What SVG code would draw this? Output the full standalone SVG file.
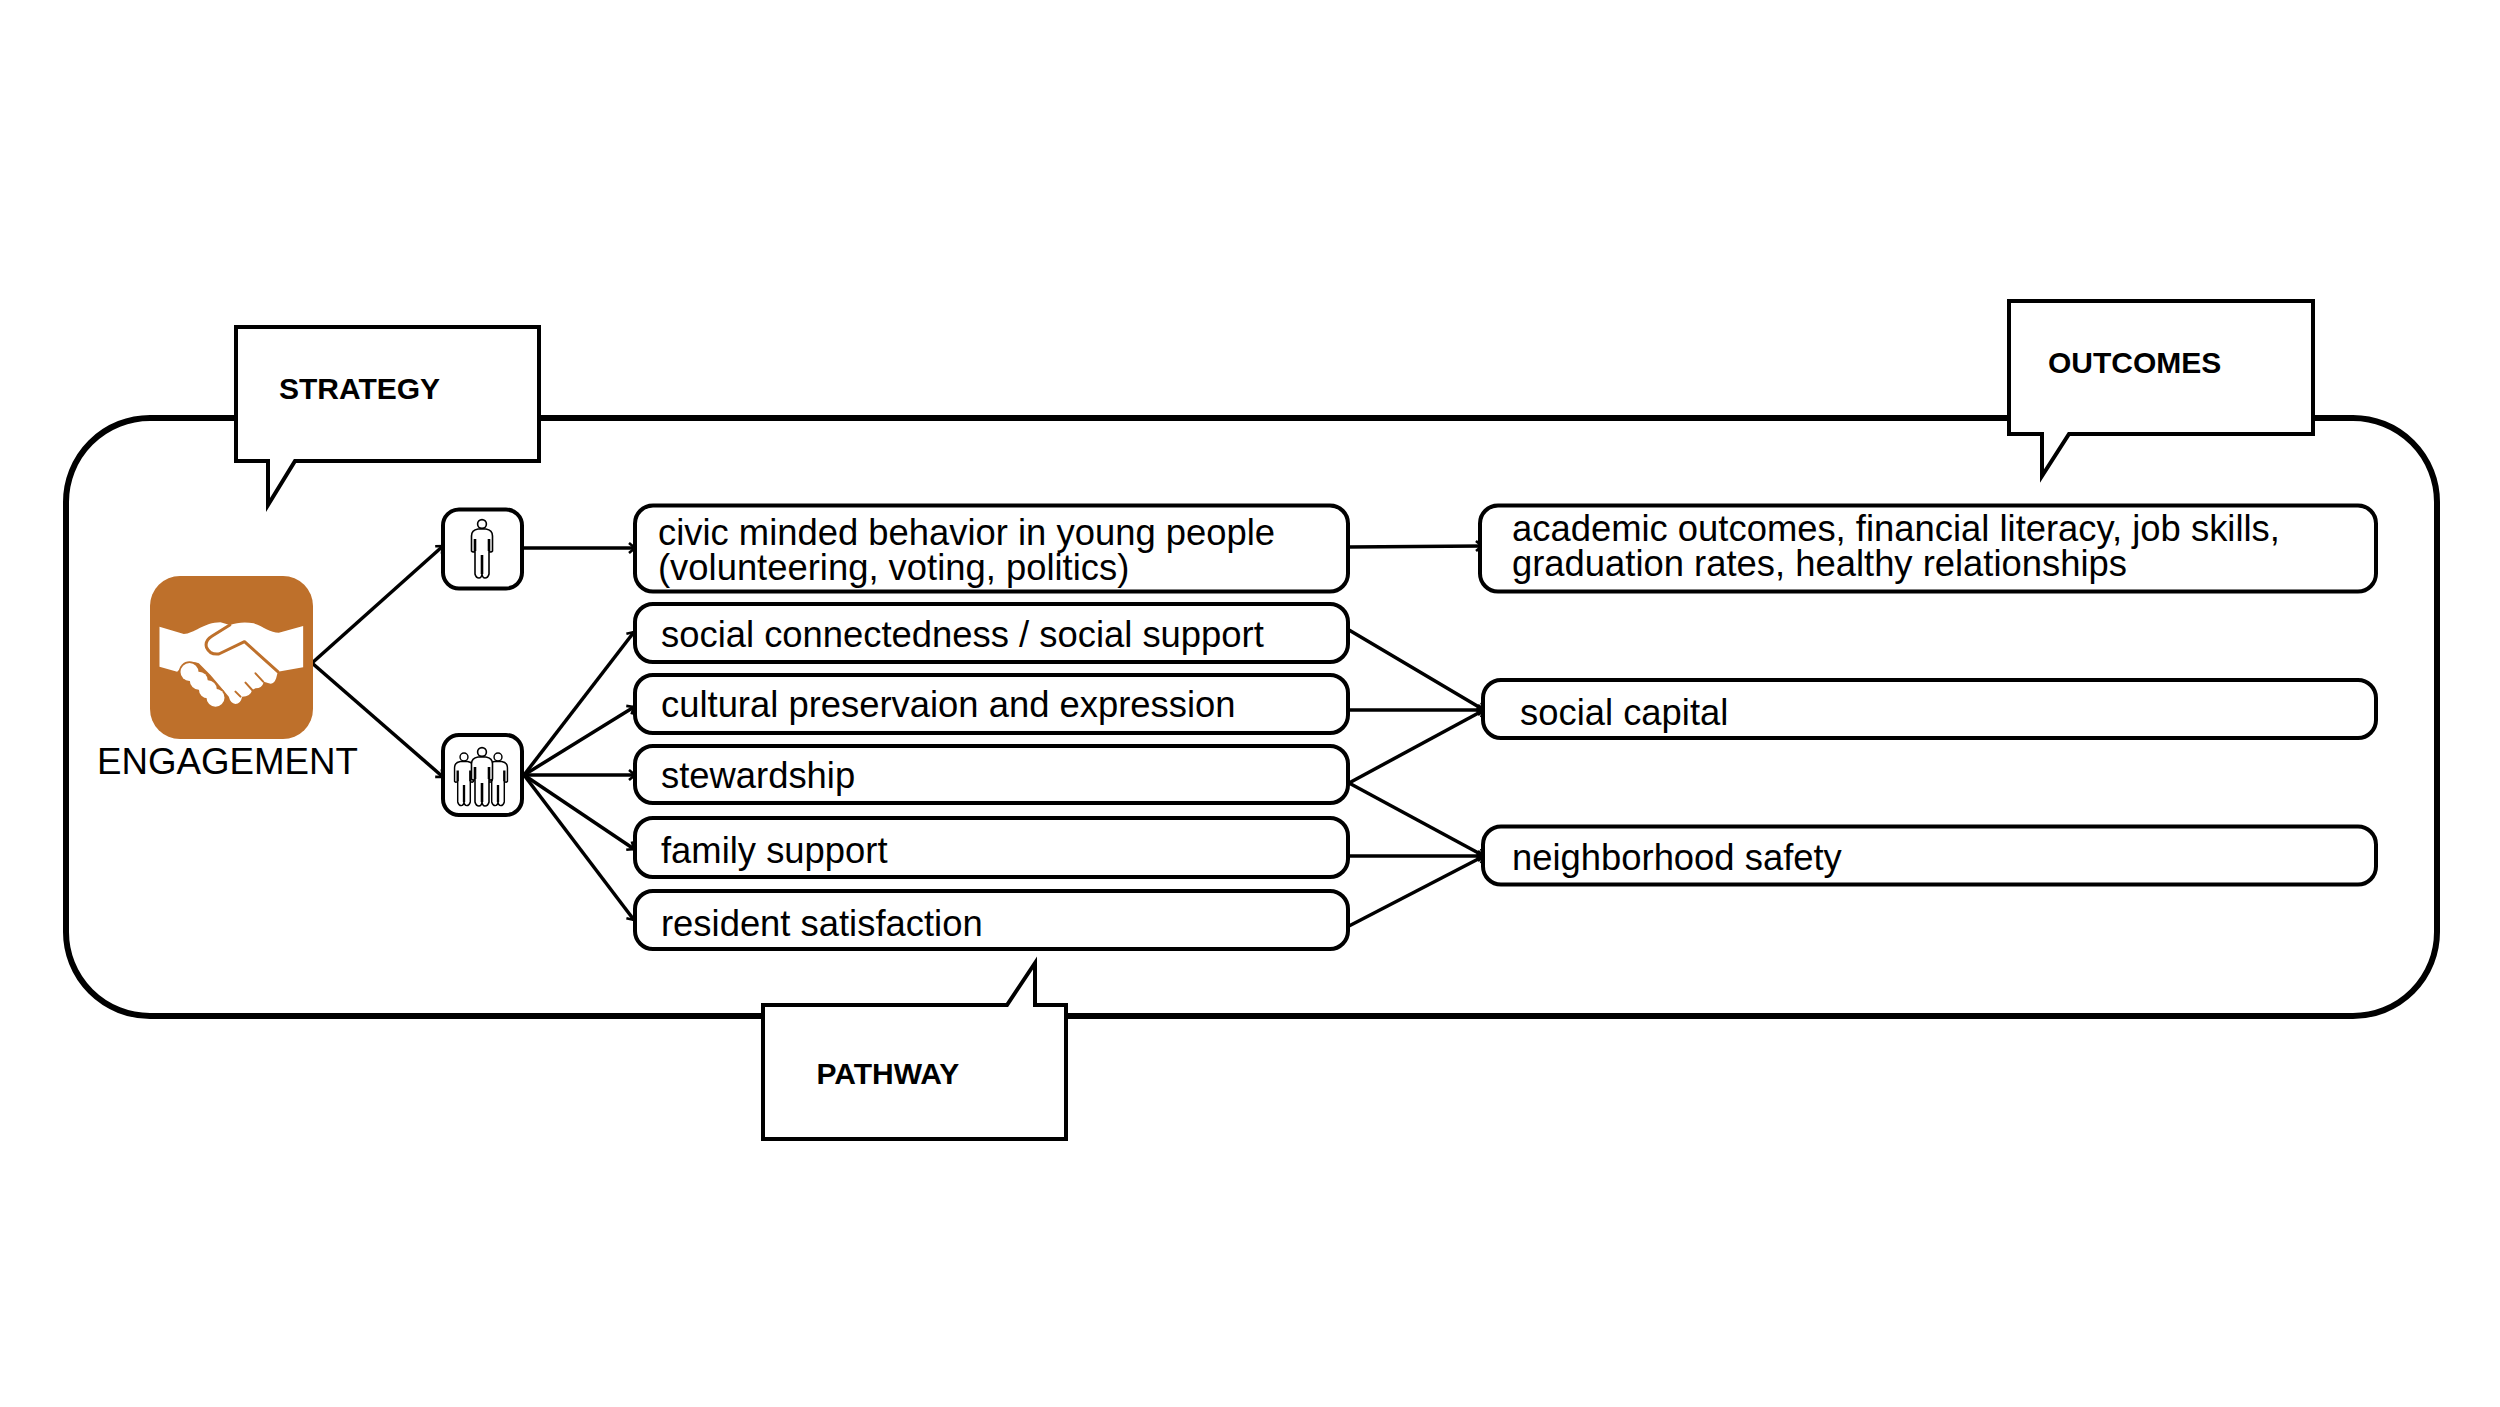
<svg xmlns="http://www.w3.org/2000/svg" width="2500" height="1407" viewBox="0 0 2500 1407">
<style>
text{font-family:"Liberation Sans",Arial,sans-serif;fill:#000}
.t{font-size:36.4px}
.e{font-size:36.7px}
.b{font-size:30px;font-weight:bold}
.box{fill:#fff;stroke:#000;stroke-width:4}
.call{fill:#fff;stroke:#000;stroke-width:4;stroke-miterlimit:10}
.c line{stroke:#000;stroke-width:3.500;marker-end:url(#arr)}
.p{fill:#fff;stroke:#000;stroke-width:1.6;stroke-linejoin:round}
.pl{fill:none;stroke:#000;stroke-width:2.6}
</style>
<defs>
<marker id="arr" markerUnits="userSpaceOnUse" markerWidth="14" markerHeight="14" refX="11" refY="7" orient="auto"><path d="M5,2 L11,7 L5,12" fill="none" stroke="#000" stroke-width="2.6"/></marker>
<g id="person">
<circle cx="0" cy="0" r="4.4" class="p"/>
<path class="p" d="M-10.5,27 L-10.5,12 Q-10.5,6 -4,5 L4,5 Q10.5,6 10.5,12 L10.5,27 Q9,29 7,27 L7,50 Q6,54 3,54 Q0.5,54 0,50 Q-0.5,54 -3,54 Q-6,54 -7,50 L-7,27 Q-9,29 -10.5,27 Z"/>
<path class="pl" d="M0,31 V50 M-7,15 V27 M7,15 V27"/>
</g>
</defs>
<rect id="container" x="66" y="418" width="2371" height="598" rx="84" ry="84" fill="none" stroke="#000" stroke-width="6"/>
<g id="connectors" class="c">
<line x1="312" y1="663" x2="443" y2="546"/>
<line x1="312" y1="663" x2="443" y2="777"/>
<line x1="523" y1="548" x2="635" y2="548"/>
<line x1="524" y1="775" x2="634" y2="632"/>
<line x1="524" y1="775" x2="634" y2="707"/>
<line x1="524" y1="775" x2="635" y2="775"/>
<line x1="524" y1="775" x2="634" y2="849"/>
<line x1="524" y1="775" x2="634" y2="920"/>
<line x1="1348" y1="547" x2="1482" y2="546"/>
<line x1="1349" y1="630" x2="1484" y2="710"/>
<line x1="1349" y1="710" x2="1484" y2="710"/>
<line x1="1349" y1="783" x2="1484" y2="710"/>
<line x1="1349" y1="783" x2="1484" y2="856"/>
<line x1="1349" y1="856" x2="1484" y2="856"/>
<line x1="1349" y1="926" x2="1484" y2="856"/>
</g>
<g id="engagement">
<rect x="150" y="576" width="163" height="163" rx="30" fill="#BE702B"/>
<g transform="translate(130.500,560) scale(.3333)">
<path fill="#fff" d="M87,200 L160,222 C190,222 220,187 270,187 L298,195 C320,187 345,185 370,190 C400,200 420,218 445,218 L518,198 L518,322 L442,335 L437,355 Q430,375 415,370 L400,365 Q395,385 375,385 L365,390 Q360,410 335,410 Q330,432 315,432 Q300,430 295,410 L270,380 L240,345 L205,310 Q180,300 160,315 L140,335 L87,320 Z"/>
<path fill="none" stroke="#BE702B" stroke-width="9" stroke-linejoin="round" stroke-linecap="round" d="M298,195 L245,228 Q222,242 228,262 Q238,285 265,282 L342,245 L442,335"/>
<path fill="none" stroke="#BE702B" stroke-width="6" stroke-linecap="round" d="M375,340 L398,365 M345,368 L365,390 M315,395 L330,410"/>
<g fill="#BE702B">
<circle cx="177" cy="336" r="32"/><circle cx="205" cy="362" r="32"/><circle cx="232" cy="388" r="32"/><circle cx="255" cy="413" r="32"/>
</g>
<g fill="#fff"><circle cx="177" cy="336" r="27"/><circle cx="205" cy="362" r="27"/><circle cx="232" cy="388" r="27"/><circle cx="255" cy="413" r="27"/></g>
</g>
<text class="e" x="97" y="774">ENGAGEMENT</text>
</g>
<g id="person-node">
<rect class="box" x="443" y="509.500" width="79" height="79" rx="16"/>
<use href="#person" x="482" y="524"/>
</g>
<g id="group-node">
<rect class="box" x="443" y="735" width="79" height="80" rx="16"/>
<use href="#person" transform="translate(464,757) scale(.9)"/>
<use href="#person" transform="translate(498,757) scale(.9)"/>
<use href="#person" x="482" y="752"/>
</g>
<g id="civic"><rect class="box" x="635" y="505.500" width="713" height="86" rx="18"/><text class="t" x="658" y="545">civic minded behavior in young people</text><text class="t" x="658" y="579.500">(volunteering, voting, politics)</text></g>
<g id="social-connectedness"><rect class="box" x="635" y="604" width="713" height="58" rx="18"/><text class="t" x="661" y="647">social connectedness / social support</text></g>
<g id="cultural"><rect class="box" x="635" y="675" width="713" height="58" rx="18"/><text class="t" x="661" y="717">cultural preservaion and expression</text></g>
<g id="stewardship"><rect class="box" x="635" y="746" width="713" height="57" rx="18"/><text class="t" x="661" y="788">stewardship</text></g>
<g id="family"><rect class="box" x="635" y="818" width="713" height="59" rx="18"/><text class="t" x="661" y="863">family support</text></g>
<g id="resident"><rect class="box" x="635" y="891" width="713" height="58" rx="18"/><text class="t" x="661" y="935.500">resident satisfaction</text></g>
<g id="academic"><rect class="box" x="1480" y="505.500" width="896" height="86" rx="18"/><text class="t" x="1512" y="540.500">academic outcomes, financial literacy, job skills,</text><text class="t" x="1512" y="575.500">graduation rates, healthy relationships</text></g>
<g id="social-capital"><rect class="box" x="1483" y="680" width="893" height="58" rx="18"/><text class="t" x="1520" y="725">social capital</text></g>
<g id="neighborhood"><rect class="box" x="1483" y="826.500" width="893" height="58" rx="18"/><text class="t" x="1512" y="870">neighborhood safety</text></g>
<g id="strategy-callout"><path class="call" d="M236,327 H539 V461 H295 L268,505 V461 H236 Z"/><text class="b" x="279" y="399">STRATEGY</text></g>
<g id="outcomes-callout"><path class="call" d="M2009,301 H2313 V434 H2069 L2042,476 V434 H2009 Z"/><text class="b" x="2048" y="373">OUTCOMES</text></g>
<g id="pathway-callout"><path class="call" d="M763,1139 V1005 H1007 L1035,963 V1005 H1066 V1139 Z"/><text class="b" x="816.500" y="1084">PATHWAY</text></g>
</svg>
